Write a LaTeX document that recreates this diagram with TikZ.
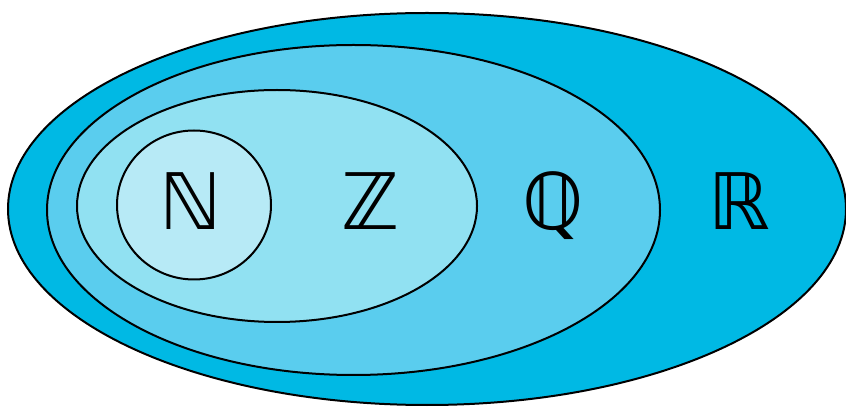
\documentclass[tikz,border=0pt]{standalone}
\usepackage{fontspec}
\newfontfamily\setfont{DejaVu Sans}
\usetikzlibrary{shapes.geometric}
\definecolor{realC}{RGB}{0,185,228}
\definecolor{ratC}{RGB}{90,205,238}
\definecolor{intC}{RGB}{145,225,242}
\definecolor{natC}{RGB}{183,234,246}
\begin{document}
\begin{tikzpicture}[x=1pt, y=1pt,
  setshape/.style={ellipse, draw=black, line width=2pt, inner sep=0pt},
  setname/.style={anchor=base, font=\setfont\fontsize{78}{78}\selectfont}]
  \useasboundingbox (0,0) rectangle (846,407);
  \node[setshape, fill=realC, minimum width=838, minimum height=392] (R) at (427,198) {};
  \node[setshape, fill=ratC, minimum width=613, minimum height=330] (Q) at (353.5,197) {};
  \node[setshape, fill=intC, minimum width=400, minimum height=232] (Z) at (277,201) {};
  \node[setshape, fill=natC, minimum width=154, minimum height=149] (N) at (194,202) {};
  \node[setname] (labN) at (191,177) {ℕ};
  \node[setname] (labZ) at (371,177) {ℤ};
  \node[setname] (labQ) at (553,177) {ℚ};
  \node[setname] (labR) at (739,177) {ℝ};
\end{tikzpicture}
\end{document}
